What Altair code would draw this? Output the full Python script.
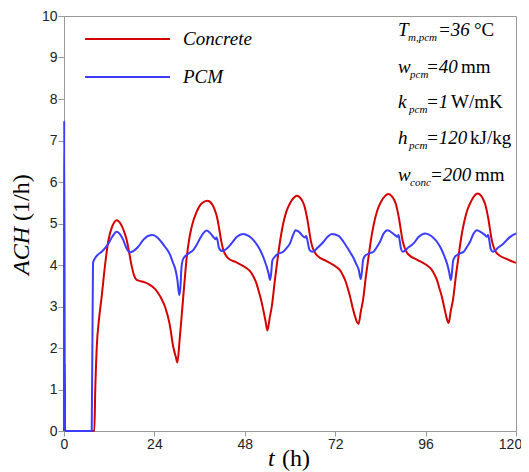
import altair as alt
import pandas as pd

# ---- data ----
conc_t = [0, 0.15, 0.3, 8.05, 8.3, 8.7, 9.3, 10.0, 10.9, 11.8, 12.8, 14.0, 15.0, 15.9, 16.65, 17.4,
          18.0, 18.6, 19.3, 20.4, 21.5, 22.8, 24.2, 25.5, 26.8, 28.0, 29.0, 29.7, 30.1,
          30.7, 31.3, 32.0, 32.6, 33.2, 33.9, 35.2, 36.6, 38.1, 39.0, 39.7, 40.2, 40.6, 41.0,
          41.4, 41.8, 42.3, 42.9, 43.6, 45.9, 48.5, 49.5, 50.3, 51.0, 51.6, 52.3, 52.9, 53.5, 54.0,
          54.6, 55.2, 56.0, 56.9, 57.5, 58.2, 59.0, 60.0, 61.0, 61.8, 62.7, 63.4, 63.9, 64.3, 64.7,
          65.1, 65.5, 66.0, 66.6, 67.3, 69.6, 72.2, 73.2, 74.0, 74.7, 75.3, 76.0, 76.6, 77.2, 77.7, 78.2,
          78.8, 79.4, 80.2, 81.1, 81.7, 82.4, 83.2, 84.2, 85.2, 86.1, 87.0, 87.7, 88.2, 88.6, 89.0,
          89.4, 89.8, 90.3, 90.9, 91.6, 93.9, 96.5, 97.5, 98.3, 99.0, 99.6, 100.3, 100.9, 101.6, 102.1,
          102.7, 103.3, 104.1, 105.0, 105.6, 106.3, 107.1, 108.1, 109.0, 109.8, 110.7, 111.4, 111.9,
          112.3, 112.7, 113.1, 113.5, 114.0, 114.6, 115.3, 117.6, 120.0]
conc_v = [0, 1.64, 0, 0, 1.0, 2.03, 2.7, 3.24, 4.0, 4.60, 4.93, 5.08, 5.0, 4.82, 4.60, 4.25,
          3.96, 3.75, 3.64, 3.61, 3.58, 3.52, 3.42, 3.25, 3.0, 2.6, 2.03, 1.78, 1.65,
          2.2, 2.84, 3.6, 4.2, 4.6, 4.92, 5.28, 5.49, 5.55, 5.50, 5.40, 5.28, 5.16, 4.98,
          4.76, 4.55, 4.36, 4.24, 4.16, 4.06, 3.92, 3.84, 3.72, 3.58, 3.40, 3.17, 2.92, 2.65, 2.42,
          2.72, 3.02, 3.64, 4.28, 4.65, 5.0, 5.28, 5.49, 5.62, 5.67, 5.62, 5.52, 5.40, 5.24, 5.05,
          4.82, 4.60, 4.42, 4.30, 4.22, 4.10, 3.96, 3.88, 3.76, 3.62, 3.45, 3.22, 2.98, 2.78, 2.64, 2.58,
          2.88, 3.16, 3.76, 4.36, 4.72, 5.05, 5.32, 5.53, 5.66, 5.71, 5.66, 5.56, 5.44, 5.28, 5.09,
          4.86, 4.63, 4.45, 4.32, 4.24, 4.12, 3.98, 3.90, 3.78, 3.64, 3.46, 3.24, 3.00, 2.72, 2.60,
          2.90, 3.18, 3.78, 4.38, 4.74, 5.06, 5.33, 5.54, 5.67, 5.72, 5.67, 5.56, 5.44,
          5.28, 5.09, 4.86, 4.63, 4.45, 4.32, 4.25, 4.14, 4.05]

pcm_t = [0, 0.05, 0.25, 7.36, 7.7, 8.2, 9.0, 10.0, 11.0, 11.8, 12.8, 14.0, 14.9, 15.75, 16.6, 17.5,
         18.5, 19.7, 21.0, 22.3, 23.6, 24.8, 25.8, 26.8, 27.6, 28.2, 28.9, 29.5, 30.1, 30.6, 30.9,
         31.2, 31.7, 33.0, 34.3, 35.2, 36.1, 37.0, 37.9, 38.7, 39.7, 40.2, 40.5, 40.8, 41.1, 41.9,
         43.0, 44.1, 45.0, 45.9, 47.6, 49.0, 50.3, 51.5, 52.5, 53.2, 53.8, 54.3, 54.7, 55.0, 55.3,
         55.8, 56.9, 58.2, 59.2, 60.0, 60.8, 61.5, 62.6, 63.6, 64.0, 64.3, 64.6, 65.2, 66.0, 67.4,
         68.9, 70.0, 71.1, 72.9, 74.2, 75.2, 76.0, 76.8, 77.6, 78.2, 78.8, 79.1, 79.4, 79.9, 81.0,
         82.2, 83.1, 83.9, 84.8, 85.9, 86.9, 87.9, 88.5, 88.8, 89.1, 89.5, 90.0, 91.4, 92.8, 94.2,
         95.9, 97.5, 99.0, 100.2, 101.2, 101.8, 102.2, 102.7, 103.0, 103.3, 103.8, 104.9, 106.1,
         107.0, 107.8, 108.7, 109.6, 110.7, 111.8, 112.3, 112.6, 112.9, 113.3, 113.9, 115.3, 116.7,
         118.2, 120.0]
pcm_v = [0, 7.48, 0, 0, 4.05, 4.16, 4.25, 4.32, 4.42, 4.52, 4.68, 4.80, 4.74, 4.60, 4.40, 4.30,
         4.34, 4.44, 4.60, 4.70, 4.72, 4.66, 4.56, 4.44, 4.34, 4.24, 4.06, 3.92, 3.64, 3.28, 3.45,
         3.95, 4.16, 4.27, 4.36, 4.48, 4.64, 4.77, 4.83, 4.78, 4.67, 4.62, 4.66, 4.58, 4.42, 4.34,
         4.38, 4.48, 4.58, 4.68, 4.75, 4.70, 4.60, 4.45, 4.28, 4.12, 3.96, 3.80, 3.64, 3.80, 4.10,
         4.18, 4.27, 4.32, 4.42, 4.52, 4.72, 4.84, 4.78, 4.68, 4.66, 4.70, 4.60, 4.36, 4.32, 4.42,
         4.56, 4.68, 4.75, 4.70, 4.56, 4.42, 4.30, 4.18, 4.02, 3.90, 3.66, 3.85, 4.12, 4.22, 4.28,
         4.32, 4.44, 4.56, 4.75, 4.84, 4.79, 4.72, 4.68, 4.72, 4.60, 4.38, 4.32, 4.42, 4.52, 4.68,
         4.76, 4.70, 4.56, 4.38, 4.16, 4.00, 3.85, 3.64, 3.82, 4.10, 4.20, 4.27, 4.32,
         4.44, 4.56, 4.75, 4.84, 4.79, 4.72, 4.68, 4.72, 4.60, 4.38, 4.32, 4.42, 4.52,
         4.66, 4.76]

series_names = ["Concrete", "PCM"]
x_ticks = [0, 24, 48, 72, 96, 120]
y_ticks = [0, 1, 2, 3, 4, 5, 6, 7, 8, 9, 10]

RED = "#d40000"
BLUE = "#3c3cff"
SERIF = "Liberation Serif"

df = pd.concat([
    pd.DataFrame({"t": conc_t, "v": conc_v, "s": series_names[0]}),
    pd.DataFrame({"t": pcm_t, "v": pcm_v, "s": series_names[1]}),
], ignore_index=True)

one = pd.DataFrame({"k": [0]})

lines = alt.Chart(df).mark_line(strokeWidth=2, interpolate="monotone").encode(
    x=alt.X("t:Q", scale=alt.Scale(domain=[0, 120], nice=False),
            axis=alt.Axis(values=x_ticks, title=None, tickSize=5, labelPadding=1,
                          labelFlush=False,
                          labelOffset={"condition": {"test": "datum.value == 120", "value": -6},
                                       "value": 0})),
    y=alt.Y("v:Q", scale=alt.Scale(domain=[0, 10], nice=False),
            axis=alt.Axis(values=y_ticks, title=None, tickSize=6, labelPadding=1)),
    color=alt.Color("s:N", scale=alt.Scale(domain=series_names, range=[RED, BLUE]), legend=None),
)


def txt(s, x, y, size=19, style="italic", align="left", baseline="alphabetic", angle=None):
    kw = dict(text=s, font=SERIF, fontSize=size, fontStyle=style, align=align,
              baseline=baseline, color="black")
    if angle is not None:
        kw["angle"] = angle
    return alt.Chart(one).mark_text(**kw).encode(x=alt.value(x), y=alt.value(y))


def rule(color, x1, x2, y):
    return alt.Chart(one).mark_rule(color=color, strokeWidth=2).encode(
        x=alt.value(x1), x2=alt.value(x2), y=alt.value(y))


layers = [lines]
# legend
layers += [rule(RED, 21, 106, 23), txt(series_names[0], 119, 29),
           rule(BLUE, 21, 106, 61), txt(series_names[1], 119, 67)]
# annotations
SUB = 11
layers += [txt("T", 334, 20), txt("m,pcm", 344, 25, size=SUB), txt("=36", 374, 20),
           txt("°C", 410, 20, style="normal")]
layers += [txt("w", 334, 57), txt("pcm", 346, 62, size=SUB), txt("=40", 362, 57),
           txt("mm", 397, 57, style="normal")]
layers += [txt("k", 334, 92), txt("pcm", 345, 97, size=SUB), txt("=1", 362, 92),
           txt("W/mK", 387, 92, style="normal")]
layers += [txt("h", 334, 128), txt("pcm", 345, 133, size=SUB), txt("=120", 362, 128),
           txt("kJ/kg", 406, 128, style="normal")]
layers += [txt("w", 334, 165), txt("conc", 346, 170, size=SUB), txt("=200", 366, 165),
           txt("mm", 411, 165, style="normal")]
# axis titles
layers += [txt("t", 204, 450, size=24), txt("(h)", 218, 450, size=24, style="normal")]
layers += [txt("ACH", -35, 259, size=24, angle=270),
           txt("(1/h)", -35, 205, size=24, style="normal", angle=270)]

chart = alt.layer(*layers).properties(
    width=452, height=415,
    padding={"left": 56, "top": 8, "right": 5, "bottom": 40},
    autosize=alt.AutoSizeParams(type="none"),
).configure_view(stroke="#999999", strokeWidth=1).configure_axis(
    grid=False, domainColor="#999999", tickColor="#999999",
    labelFont="Liberation Sans", labelFontSize=14, labelColor="#222222",
)

chart.save("out.html", embed_options={"renderer": "svg", "actions": False})
